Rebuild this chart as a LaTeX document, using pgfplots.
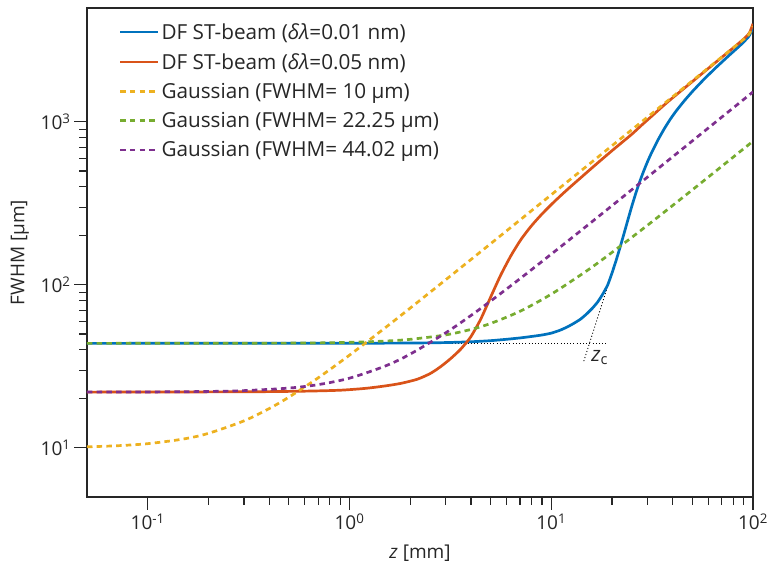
\documentclass[border=0pt]{standalone}
\usepackage{fontspec}
\setmainfont{Open Sans}
\usepackage{pgfplots}
\pgfplotsset{compat=1.18}

\definecolor{mblue}{rgb}{0,0.447,0.741}
\definecolor{mred}{rgb}{0.85,0.325,0.098}
\definecolor{myellow}{rgb}{0.929,0.694,0.125}
\definecolor{mpurple}{rgb}{0.494,0.184,0.556}
\definecolor{mgreen}{rgb}{0.466,0.674,0.188}
\definecolor{axgray}{HTML}{262626}

\newcommand{\bigfont}{\fontsize{19}{23}\selectfont}
\newcommand{\legfont}{\fontsize{20.7}{24}\selectfont}

\begin{document}
\begin{tikzpicture}
\begin{axis}[
  scale only axis, width=666pt, height=489pt,
  xmode=log, ymode=log,
  xmin=0.05, xmax=100, ymin=5, ymax=5000,
  axis line style={draw=axgray, line width=1.1pt},
  tick style={draw=axgray, line width=1.1pt},
  major tick length=13pt, minor tick length=8pt,
  tick align=outside, xtick pos=left, ytick pos=left,
  xtick={0.1,1,10,100}, ytick={10,100,1000},
  xticklabels={10\textsuperscript{-1},10\textsuperscript{0},10\textsuperscript{1},10\textsuperscript{2}},
  yticklabels={10\textsuperscript{1},10\textsuperscript{2},10\textsuperscript{3}},
  ticklabel style={font=\bigfont, text=axgray},
  xlabel={\textit{z} [mm]}, ylabel={FWHM [µm]},
  label style={font=\bigfont, text=axgray},
  xlabel style={at={(axis description cs:0.5,-0.1145)}, anchor=center},
  ylabel style={at={(axis description cs:-0.1006,0.5)}, anchor=center},
  legend style={draw=none, fill=none, at={(axis description cs:0.043,0.977)},
    anchor=north west, font=\legfont, row sep=8.5pt, cells={anchor=west}, text=axgray},
  legend image code/.code={\draw[#1] (0pt,0pt) -- (38pt,0pt);},
  ln/.style={line width=2.7pt},
  gdash/.style={line width=2.7pt, dash pattern=on 5.5pt off 4.2pt},
]
\coordinate (bl) at (rel axis cs:0,0);

% z_c construction
\addplot[black, line width=0.9pt, dash pattern=on 1pt off 2.2pt, forget plot]
  coordinates {(0.05,43.8) (18.6,43.8)};
\addplot[black, line width=0.9pt, dash pattern=on 1pt off 2.2pt, forget plot]
  coordinates {(14.5,34.1) (19.7,112)};

% DF ST-beam, 0.01 nm
\addplot[mblue, ln, smooth, tension=0.3] coordinates {
(0.05,43.8) (1,43.9) (2,44.0) (3,44.3) (4,44.8) (5,45.5) (6,46.4) (7,47.3)
(8,48.3) (9,49.3) (10,50.6) (11,52.6) (12,55.2) (13,58.3) (14,61.8) (15,66.5)
(16,72) (17,78.7) (18,87.8) (19.05,100) (19.95,117) (20.89,139.3) (21.88,168.3)
(22.91,205) (23.99,251) (25.12,306) (26.30,368) (27.54,435) (28.84,506)
(30.20,581) (31.62,658) (33.88,779) (36.31,907) (38.90,1038) (41.69,1171)
(45.71,1350) (50.12,1539) (57.54,1842) (66.07,2175) (75.86,2549) (87.10,2976)
(95.50,3354) (100,3800)
};
\addlegendentry{DF ST-beam (\textit{δλ}=0.01 nm)}

% DF ST-beam, 0.05 nm
\addplot[mred, ln, smooth, tension=0.4] coordinates {
(0.05,22.0) (0.3,22.1) (0.6,22.3) (0.9,22.6) (1.2,23.2) (1.5,24.0) (1.8,24.9)
(2.17,26.4) (2.512,28.6) (2.818,31.4) (3.162,35.2) (3.548,40.2) (3.981,47.8)
(4.467,61.5) (5.012,84.4) (5.623,115.2) (6.310,151) (7.079,190) (7.943,229)
(8.913,269) (10,311) (11.22,356) (12.59,405) (14.13,459) (15.85,520)
(17.78,588) (19.95,664) (22.39,748) (25.12,842) (28.18,960) (31.62,1090)
(35.5,1240) (39.8,1400) (50.1,1770) (63.1,2240) (79.4,2830) (90,3230)
(96,3520) (100,4000)
};
\addlegendentry{DF ST-beam (\textit{δλ}=0.05 nm)}

% Gaussian 10
\addplot[myellow, gdash, smooth] coordinates {
(0.05,10.16) (0.07,10.31) (0.1,10.62) (0.15,11.34) (0.2,12.29) (0.3,14.66)
(0.4,17.44) (0.5,20.47) (0.7,26.93) (1,37.09) (1.5,54.50) (2,72.13)
(3,107.6) (5,178.8) (7,250.2) (10,357.3) (15,535.8) (20,714.3) (30,1071)
(50,1786) (70,2500) (85,3036) (95,3420) (100,3850)
};
\addlegendentry{Gaussian (FWHM= 10 µm)}

% Gaussian 22.25
\addplot[mgreen, gdash, smooth] coordinates {
(0.05,43.8) (0.5,43.97) (1,44.46) (1.5,45.26) (2,46.37) (3,49.38) (4,53.33)
(5,58.0) (7,68.93) (10,87.75) (15,122.1) (20,158.3) (30,232.3) (50,382.7)
(70,534.1) (100,761.7)
};
\addlegendentry{Gaussian (FWHM= 22.25 µm)}

% Gaussian 44.02
\addplot[mpurple, gdash, smooth] coordinates {
(0.05,22.01) (0.1,22.05) (0.2,22.21) (0.3,22.47) (0.5,23.29) (0.7,24.46)
(1,26.79) (1.5,31.77) (2,37.65) (3,50.84) (4,64.95) (5,79.49) (7,109.2)
(10,154.4) (15,230.2) (20,306.3) (30,458.9) (50,764.2) (70,1069.7) (100,1527.9)
};
\addlegendentry{Gaussian (FWHM= 44.02 µm)}

\node[font=\legfont, text=axgray, anchor=center] at (axis cs:17.4,35.8)
  {\textit{z}\textsubscript{c}};
\end{axis}
\pgfresetboundingbox
\path[use as bounding box] (bl) ++(-87pt,-79pt) rectangle ++(767pt,576pt);
\end{tikzpicture}
\end{document}
